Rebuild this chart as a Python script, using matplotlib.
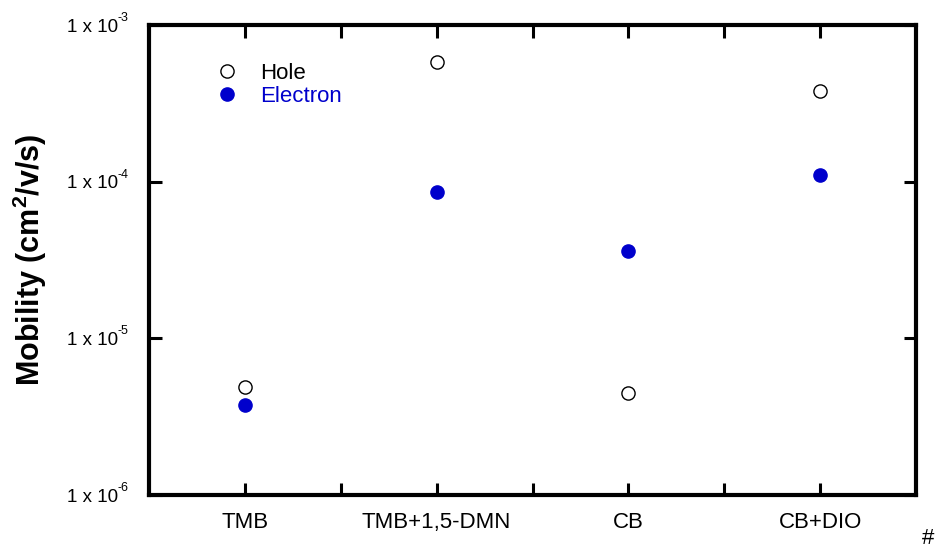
import matplotlib
matplotlib.use("Agg")
import matplotlib.pyplot as plt
import matplotlib.transforms as mtransforms
from matplotlib.ticker import FixedLocator, NullLocator

plt.rcParams['font.family'] = ['Liberation Sans', 'DejaVu Sans']
plt.rcParams['mathtext.fontset'] = 'custom'
plt.rcParams['mathtext.rm'] = 'Liberation Sans'

categories = ["TMB", "TMB+1,5-DMN", "CB", "CB+DIO"]
hole = [4.9e-6, 5.8e-4, 4.5e-6, 3.8e-4]
electron = [3.75e-6, 8.6e-5, 3.6e-5, 1.1e-4]
ytick_vals = [1e-6, 1e-5, 1e-4, 1e-3]
ytick_base = ["1 x 10", "1 x 10", "1 x 10", "1 x 10"]
ytick_exp = ["-6", "-5", "-4", "-3"]

fig = plt.figure(figsize=(9.36, 5.49), dpi=100)
ax = fig.add_axes([149/936, 1-495/549, (916-149)/936, (495-25)/549])

x = list(range(1, len(categories)+1))
ax.plot(x, hole, 'o', ls='none', mfc='white', mec='black', mew=1.0, ms=9.5, label='Hole')
ax.plot(x, electron, 'o', ls='none', mfc='#0000CC', mec='#0000CC', mew=1.0, ms=9.5, label='Electron')

ax.set_yscale('log')
ax.set_ylim(1e-6, 1e-3)
ax.set_xlim(0.5, 4.5)
ax.yaxis.set_major_locator(FixedLocator(ytick_vals))
ax.yaxis.set_minor_locator(NullLocator())
ax.set_yticklabels(ytick_base, fontsize=13.5)
ax.set_xticks([1, 1.5, 2, 2.5, 3, 3.5, 4])
ax.set_xticklabels([categories[0], "", categories[1], "", categories[2], "", categories[3]], fontsize=16)
ax.tick_params(axis='both', which='major', direction='in', length=9, width=2.2,
               top=True, right=True)
ax.tick_params(axis='y', pad=22.5)
ax.tick_params(axis='x', pad=12)
for s in ax.spines.values():
    s.set_linewidth(3)

# small superscript exponents next to the y tick labels
trans = mtransforms.blended_transform_factory(ax.transAxes, ax.transData) + \
    mtransforms.ScaledTranslation(-31/100, 7/100, fig.dpi_scale_trans)
for v, e in zip(ytick_vals, ytick_exp):
    ax.text(0, v, e, transform=trans, fontsize=9, ha='left', va='center', clip_on=False)

ax.set_ylabel(r"Mobility (cm$^{\mathregular{2}}$/v/s)", fontsize=22, fontweight='bold', labelpad=13)

leg = ax.legend(loc='upper left', bbox_to_anchor=(0.073, 0.939), frameon=False, fontsize=16,
                handletextpad=0.9, labelspacing=0.1, borderaxespad=0, handlelength=1.2)
for t, c in zip(leg.get_texts(), ['black', '#0000CC']):
    t.set_color(c)

fig.text(928/936, 1-538/549, "#", fontsize=16, ha='center', va='center')

fig.savefig("out.png", dpi=100)
